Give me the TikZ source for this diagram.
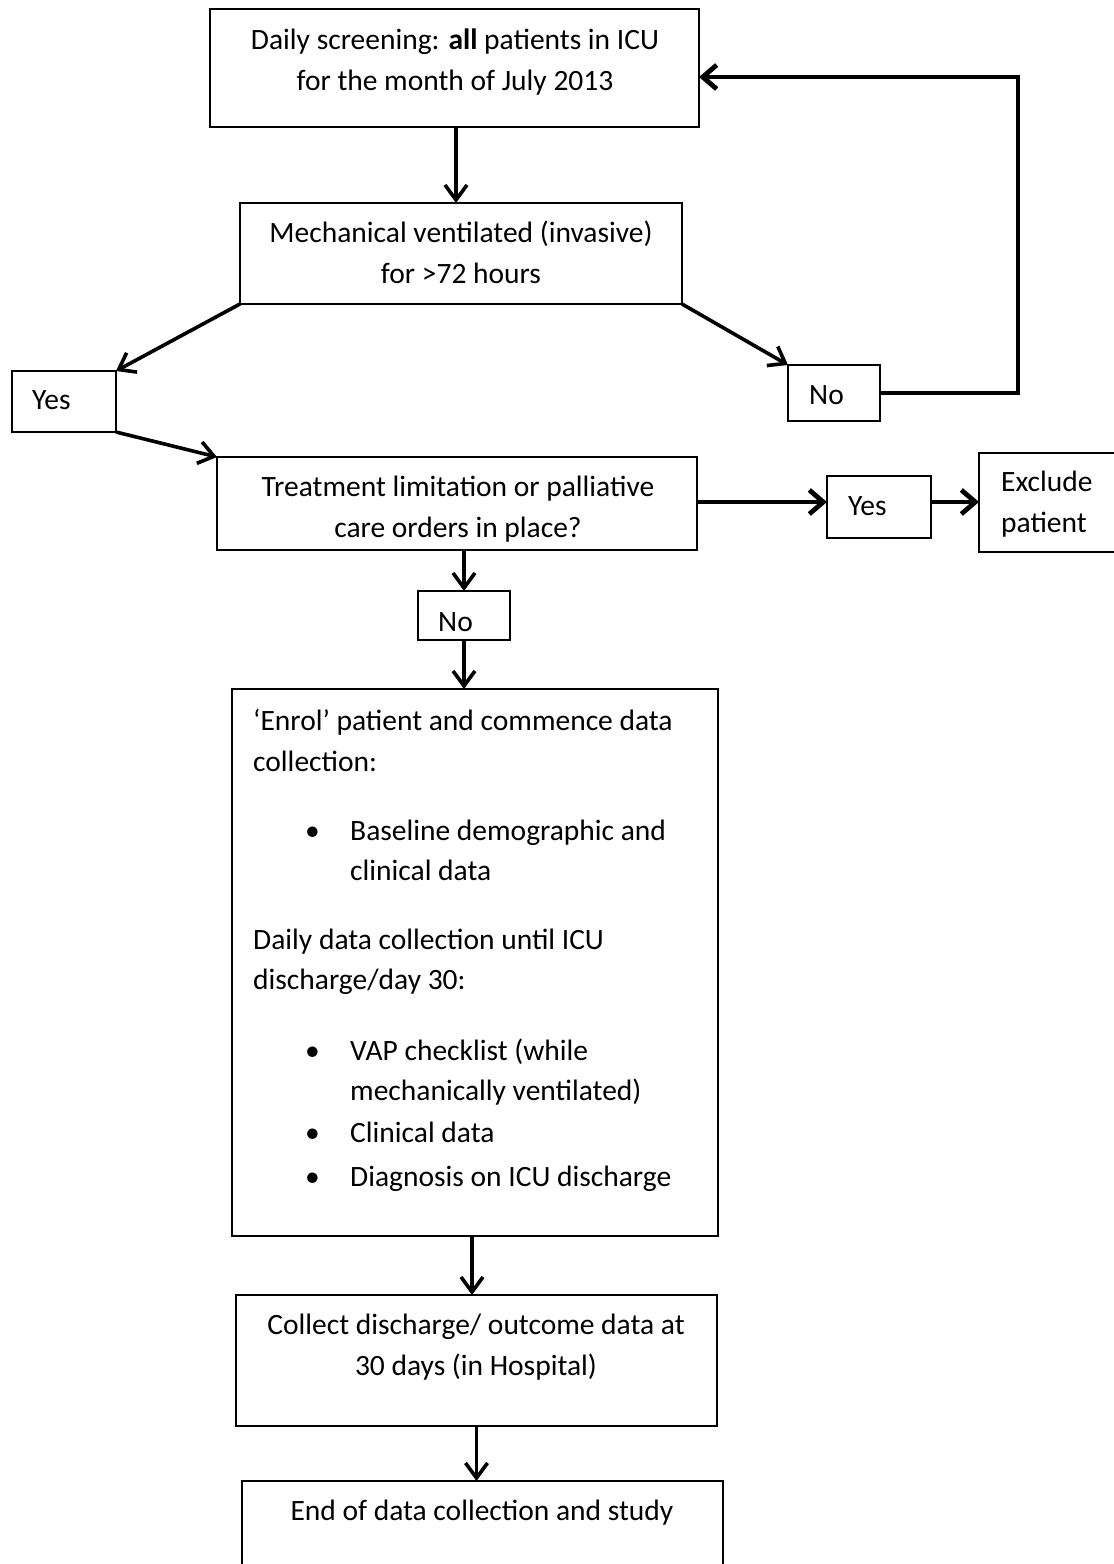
\documentclass[tikz,border=0pt]{standalone}
\usepackage{fontspec}
\setmainfont{Carlito}
\usetikzlibrary{arrows.meta,calc}
\tikzset{
  box/.style={draw, line width=1.6pt, inner sep=0pt, outer sep=0pt, anchor=north west},
  txt/.style={inner sep=0pt, font=\fontsize{29.5}{40.5}\selectfont},
  arr/.style={line width=3.6pt, -{Straight Barb[length=15pt,width=22pt]}},
  thickarr/.style={line width=4.8pt, -{Straight Barb[length=14pt,width=24pt]}},
}
\begin{document}
\begin{tikzpicture}[x=1pt,y=-1pt]
\useasboundingbox (0,0) rectangle (1114,1564);
\clip (0,0) rectangle (1114,1564);
\fill[white] (0,0) rectangle (1114,1564);
% boxes
\node[box, minimum width=489pt, minimum height=118pt] (b1) at (210,9) {};
\node[box, minimum width=442pt, minimum height=101pt] (b2) at (240,203) {};
\node[box, minimum width=104pt, minimum height=61pt] (yesA) at (12,371) {};
\node[box, minimum width=92pt, minimum height=56pt] (noA) at (788,365) {};
\node[box, minimum width=480pt, minimum height=93pt] (b3) at (217,457) {};
\node[box, minimum width=104pt, minimum height=62pt] (yesB) at (827,476) {};
\node[box, minimum width=160pt, minimum height=99pt] (excl) at (979,453) {};
\node[box, minimum width=92pt, minimum height=49pt] (noB) at (418,591) {};
\node[box, minimum width=486pt, minimum height=547pt] (b4) at (232,689) {};
\node[box, minimum width=481pt, minimum height=131pt] (b5) at (236,1295) {};
\node[box, minimum width=481pt, minimum height=140pt] (b6) at (242,1481) {};
% texts (multi-line nodes: base = baseline of last line)
\node[txt, align=center, anchor=base] (t1) at (455,90) {Daily screening: \textbf{all} patients in ICU\\for the month of July 2013};
\node[txt, align=center, anchor=base] (t2) at (461,283) {Mechanical ventilated (invasive)\\for >72 hours};
\node[txt, anchor=base west] (tyA) at (32,409) {Yes};
\node[txt, anchor=base west] (tnA) at (809,404) {No};
\node[txt, align=center, anchor=base] (t3) at (458,537) {Treatment limitation or palliative\\care orders in place?};
\node[txt, anchor=base west] (tyB) at (848,515) {Yes};
\node[txt, align=left, anchor=base west] (tex) at (1001,532) {Exclude\\patient};
\node[txt, anchor=base west] (tnB) at (438,631) {No};
% enrolment box text
\node[txt, anchor=base west] (e1) at (253,730) {‘Enrol’ patient and commence data};
\node[txt, anchor=base west] (e2) at (253,771) {collection:};
\node[txt, anchor=base west] (e3) at (305,840) {•};
\node[txt, anchor=base west] (e4) at (350,840) {Baseline demographic and};
\node[txt, anchor=base west] (e5) at (350,880) {clinical data};
\node[txt, anchor=base west] (e6) at (253,949) {Daily data collection until ICU};
\node[txt, anchor=base west] (e7) at (253,989) {discharge/day 30:};
\node[txt, anchor=base west] (e8) at (305,1060) {•};
\node[txt, anchor=base west] (e9) at (350,1060) {VAP checklist (while};
\node[txt, anchor=base west] (e10) at (350,1100) {mechanically ventilated)};
\node[txt, anchor=base west] (e11) at (305,1142) {•};
\node[txt, anchor=base west] (e12) at (350,1142) {Clinical data};
\node[txt, anchor=base west] (e13) at (305,1186) {•};
\node[txt, anchor=base west] (e14) at (350,1186) {Diagnosis on ICU discharge};
\node[txt, align=center, anchor=base] (t5) at (476,1375) {Collect discharge/ outcome data at\\30 days (in Hospital)};
\node[txt, anchor=base] (t6) at (482,1520) {End of data collection and study};
% connectors
\coordinate (loop) at (1018,77);
\draw[arr] (b1.south -| 456,0) -- (b2.north -| 456,0);
\draw[arr] (b2.south west) -- (yesA.north east);
\draw[arr] (b2.south east) -- (noA.north west);
\draw[thickarr] (noA.east) -| (loop) -- (b1.east |- loop);
\draw[arr] (yesA.south east) -- (b3.north west);
\draw[thickarr] (b3.east |- 0,502) -- (yesB.west |- 0,502);
\draw[thickarr] (yesB.east |- 0,502) -- (excl.west |- 0,502);
\draw[arr] (noB.north |- b3.south) -- (noB.north);
\draw[arr] (noB.south) -- (noB.south |- b4.north);
\draw[arr] (b4.south -| 472,0) -- (b5.north -| 472,0);
\draw[arr] (b5.south) -- (b5.south |- b6.north);
\end{tikzpicture}
\end{document}
